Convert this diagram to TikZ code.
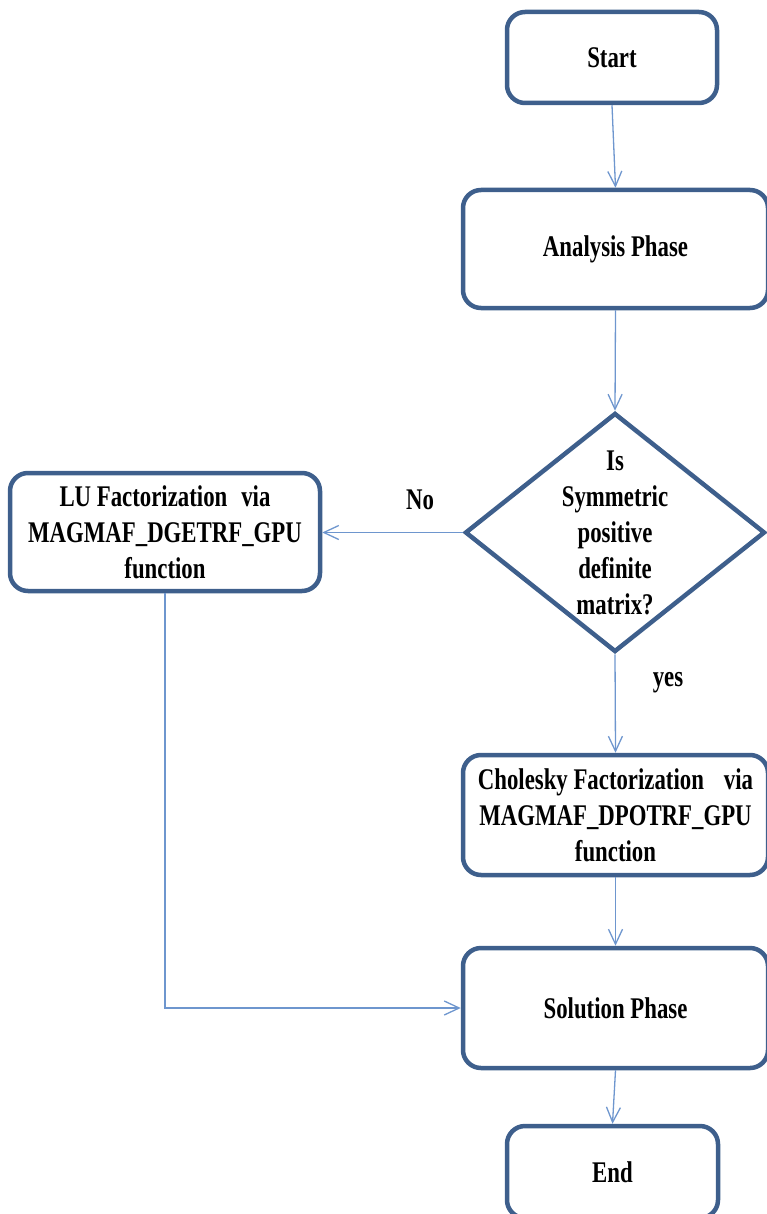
\documentclass[tikz,border=0pt]{standalone}
\usepackage{fontspec}
\setmainfont{Liberation Serif}[FakeStretch=0.76]
\usetikzlibrary{shapes.geometric,arrows.meta}
\definecolor{boxblue}{RGB}{62,95,140}
\definecolor{linkblue}{RGB}{110,150,206}
\begin{document}
\begin{tikzpicture}[x=1pt,y=-1pt,
  txt/.style={font=\fontsize{30}{36}\selectfont\bfseries, align=center, text=black},
  flowbox/.style={txt, draw=boxblue, line width=4.5pt, rounded corners=18pt, inner sep=0pt},
  link/.style={draw=linkblue, line width=1.3pt, -{Straight Barb[length=15pt,width=14pt,line width=1.3pt]}},
  lbl/.style={txt}]
\useasboundingbox (0,0) rectangle (766,1214);
\node[flowbox, minimum width=210pt, minimum height=91pt] (start) at (612,57.5) {Start};
\node[flowbox, minimum width=305pt, minimum height=118pt] (analysis) at (615.5,249) {Analysis Phase};
\node[draw=boxblue, line width=4.5pt, shape=diamond, inner sep=0pt, minimum width=300pt, minimum height=239pt] (dec) at (615,532.5) {};
\node[txt] (dectext) at (dec.center) {Is\\Symmetric\\positive\\definite\\matrix?};
\node[flowbox, minimum width=310pt, minimum height=118pt] (lu) at (165,532) {LU Factorization\hspace{14pt}via\\MAGMAF\_DGETRF\_GPU\\function};
\node[flowbox, minimum width=305pt, minimum height=120pt] (chol) at (615.5,815) {Cholesky Factorization\hspace{20pt}via\\MAGMAF\_DPOTRF\_GPU\\function};
\node[flowbox, minimum width=305pt, minimum height=120pt] (sol) at (615.5,1008) {Solution Phase};
\node[flowbox, minimum width=211pt, minimum height=92pt] (end) at (612.5,1172) {End};
\node[lbl] (no) at (420,500) {No};
\node[lbl] (yes) at (668,683) {yes};
\draw[link] (start.south) -- (analysis.north);
\draw[link] (analysis.south) -- (dec.north);
\draw[link] (dec.west) -- (dec.west -| lu.east);
\draw[link] (dec.south) -- (chol.north);
\draw[link] (chol.south) -- (sol.north);
\draw[link] (sol.south) -- (end.north);
\draw[link] (lu.south) |- (sol.west);
\end{tikzpicture}
\end{document}
